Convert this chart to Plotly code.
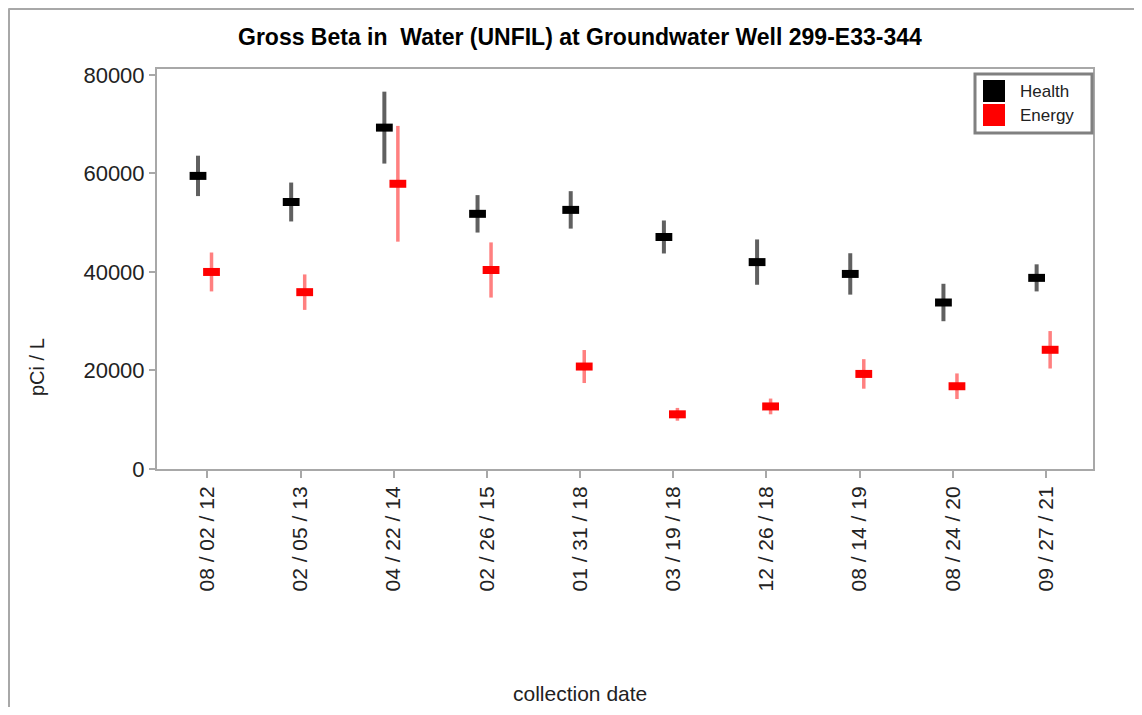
import plotly.graph_objects as go

dates = ["08 / 02 / 12", "02 / 05 / 13", "04 / 22 / 14", "02 / 26 / 15", "01 / 31 / 18",
         "03 / 19 / 18", "12 / 26 / 18", "08 / 14 / 19", "08 / 24 / 20", "09 / 27 / 21"]
health = [59500, 54200, 69300, 51800, 52600, 47100, 42000, 39600, 33800, 38800]
health_err = [4100, 3950, 7300, 3800, 3800, 3350, 4600, 4200, 3800, 2750]
energy = [40000, 35900, 57900, 40400, 20800, 11100, 12700, 19300, 16800, 24200]
energy_err = [3950, 3600, 11750, 5600, 3350, 1300, 1600, 3000, 2600, 3800]
yticks = [0, 20000, 40000, 60000, 80000]

FONT = "Liberation Sans, Arial, sans-serif"
idx = list(range(len(dates)))

fig = go.Figure()
fig.add_trace(go.Scatter(
    x=[i - 0.1 for i in idx], y=health, mode="markers", name="Health", showlegend=False,
    marker=dict(symbol="line-ew", size=12, color="black", line=dict(color="black", width=8)),
    error_y=dict(type="data", array=health_err, visible=True, color="#606060", thickness=4, width=0),
))
fig.add_trace(go.Scatter(
    x=[i + 0.045 for i in idx], y=energy, mode="markers", name="Energy", showlegend=False,
    marker=dict(symbol="line-ew", size=12, color="red", line=dict(color="red", width=8)),
    error_y=dict(type="data", array=energy_err, visible=True, color="#ff8080", thickness=3.5, width=0),
))

# page offset of the figure (body margin)
OFF = 8
W, H = 1126, 699
L, T = 157 - OFF, 69 - OFF
pw, ph = 936, 400
R = W - L - pw
B = H - T - ph

def px(x):
    return (x - OFF - L) / pw

def py(y):
    return (T + ph - (y - OFF)) / ph

shapes = [
    # figure border (top and left)
    dict(type="line", xref="paper", yref="paper", x0=px(8.5), x1=px(1142), y0=py(9), y1=py(9),
         line=dict(color="#a8a8a8", width=2)),
    dict(type="line", xref="paper", yref="paper", x0=px(9), x1=px(9), y0=py(8.5), y1=py(715),
         line=dict(color="#a8a8a8", width=2)),
    # legend box
    dict(type="rect", xref="paper", yref="paper", x0=px(975), x1=px(1092), y0=py(74), y1=py(133),
         line=dict(color="#808080", width=3), fillcolor="white"),
    dict(type="rect", xref="paper", yref="paper", x0=px(983), x1=px(1005), y0=py(80), y1=py(102),
         line=dict(width=0), fillcolor="black"),
    dict(type="rect", xref="paper", yref="paper", x0=px(983), x1=px(1005), y0=py(104), y1=py(126),
         line=dict(width=0), fillcolor="red"),
]

annotations = [
    dict(text="<b>Gross Beta in  Water (UNFIL) at Groundwater Well 299-E33-344</b>", xref="paper", yref="paper",
         x=px(580), y=py(37), showarrow=False, xanchor="center", yanchor="middle",
         font=dict(family=FONT, size=23, color="black")),
    dict(text="pCi / L", xref="paper", yref="paper", x=px(37), y=py(367), showarrow=False,
         textangle=-90, xanchor="center", yanchor="middle", font=dict(family=FONT, size=20, color="#222")),
    dict(text="collection date", xref="paper", yref="paper", x=px(580), y=py(693), showarrow=False,
         xanchor="center", yanchor="middle", font=dict(family=FONT, size=21, color="#222")),
    dict(text="Health", xref="paper", yref="paper", x=px(1018), y=py(91), showarrow=False,
         xanchor="left", yanchor="middle", font=dict(family=FONT, size=17, color="#222")),
    dict(text="Energy", xref="paper", yref="paper", x=px(1018), y=py(115), showarrow=False,
         xanchor="left", yanchor="middle", font=dict(family=FONT, size=17, color="#222")),
]

fig.update_layout(
    width=W, height=H, margin=dict(l=L, r=R, t=T, b=B, pad=0),
    paper_bgcolor="white", plot_bgcolor="white",
    shapes=shapes, annotations=annotations, showlegend=False,
    font=dict(family=FONT, color="#222"),
)
fig.update_xaxes(
    range=[-0.54, 9.505], tickmode="array", tickvals=idx, ticktext=dates, tickangle=-90,
    showgrid=False, zeroline=False, showline=True, mirror=True, linecolor="#a8a8a8", linewidth=2,
    ticks="outside", ticklen=7, tickcolor="#a8a8a8", tickwidth=2,
    tickfont=dict(family=FONT, size=21, color="#222"),
)
fig.update_yaxes(
    range=[0, 81200], tickmode="array", tickvals=yticks, ticktext=[str(v) for v in yticks],
    showgrid=False, zeroline=False, showline=True, mirror=True, linecolor="#a8a8a8", linewidth=2,
    ticks="outside", ticklen=6, tickcolor="#a8a8a8", tickwidth=2,
    tickfont=dict(family=FONT, size=22, color="#222"),
)

fig.write_html("out.html")
